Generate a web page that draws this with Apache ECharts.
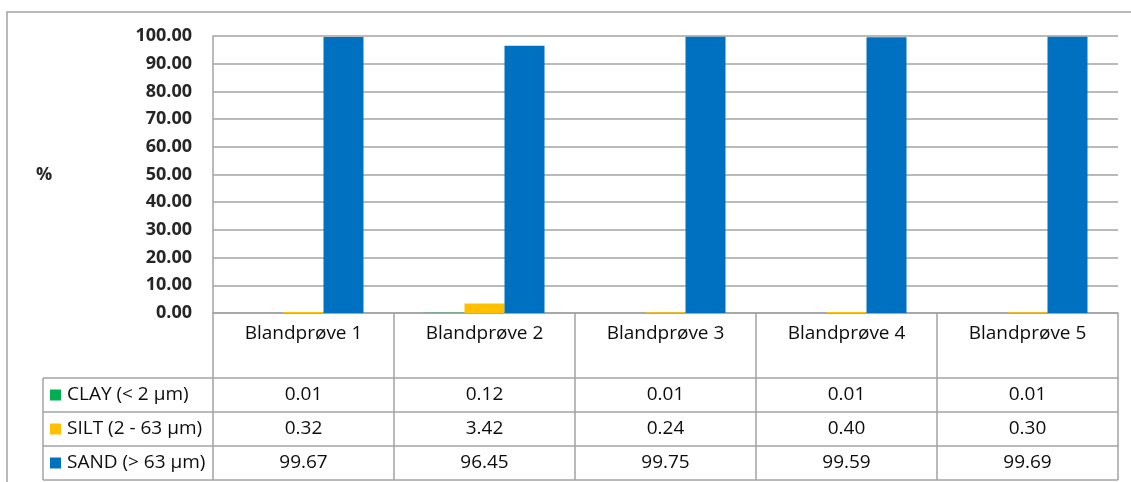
<!DOCTYPE html>
<html>
<head>
<meta charset="utf-8">
<title>Kornfordeling</title>
<script src="https://cdn.jsdelivr.net/npm/echarts@6/dist/echarts.min.js"></script>
<style>
  html, body { margin: 0; padding: 0; background: #fff; }
  #chart { width: 1131px; height: 482px; }
</style>
</head>
<body>
<div id="chart"></div>
<script>
// Grain size fractions per mixed sample (%)
const categories = ['Blandprøve 1', 'Blandprøve 2', 'Blandprøve 3', 'Blandprøve 4', 'Blandprøve 5'];
const seriesNames = ['CLAY (< 2 µm)', 'SILT (2 - 63 µm)', 'SAND (> 63 µm)'];
const clay = [0.01, 0.12, 0.01, 0.01, 0.01];
const silt = [0.32, 3.42, 0.24, 0.40, 0.30];
const sand = [99.67, 96.45, 99.75, 99.59, 99.69];
const seriesColors = ['#00B050', '#FFC000', '#0070C0'];
const yMin = 0, yMax = 100, yStep = 10;

const FONT = '"Open Sans", "Noto Sans", sans-serif';
const LINE = '#a3a3a3';
const TEXT = '#0d0d0d';
const TABLE_FONT = 19;

const chart = echarts.init(document.getElementById('chart'), null, { renderer: 'canvas' });

const grid = { left: 213, right: 13, top: 36, bottom: 169 };
const headerH = 65;   // category label row of the data table
const rowH = 34;      // value rows of the data table
const keyLeft = 43;   // left edge of the series label column

chart.setOption({
  animation: false,
  backgroundColor: '#fff',
  grid: grid,
  xAxis: {
    type: 'category',
    data: categories,
    boundaryGap: true,
    axisLine: { show: true, lineStyle: { color: LINE, width: 1.5 } },
    axisTick: { show: true, interval: 0, length: headerH + rowH * 3, lineStyle: { color: LINE, width: 1.5 } },
    axisLabel: { interval: 0, margin: 11, color: TEXT, fontFamily: FONT, fontSize: TABLE_FONT },
    splitLine: { show: false }
  },
  yAxis: {
    type: 'value',
    min: yMin, max: yMax, interval: yStep,
    axisLine: { show: true, lineStyle: { color: LINE, width: 1.5 } },
    axisTick: { show: false },
    axisLabel: {
      margin: 21, color: '#262626', fontFamily: FONT, fontSize: 18, fontWeight: 'bold',
      formatter: v => v.toFixed(2)
    },
    splitLine: { show: true, lineStyle: { color: LINE, width: 1.5 } }
  },
  series: [clay, silt, sand].map((d, i) => ({
    name: seriesNames[i],
    type: 'bar',
    data: d,
    barWidth: 40,
    barGap: '0%',
    itemStyle: { color: seriesColors[i] }
  }))
});

// Data table under the plot, positioned from the axis scales
function drawTable() {
  const y0 = chart.convertToPixel({ yAxisIndex: 0 }, yMin);
  const xRight = chart.getWidth() - grid.right;
  const rowTop = y0 + headerH;
  const els = [];

  // outer chart frame
  els.push({ type: 'rect', shape: { x: 7, y: 12, width: 1140, height: 500 },
    style: { fill: null, stroke: LINE, lineWidth: 1.5 }, silent: true, z: 0 });

  // axis title
  els.push({ type: 'text', x: 44, y: (grid.top + y0) / 2,
    style: { text: '%', fill: '#262626', font: 'bold 18px ' + FONT, align: 'center', verticalAlign: 'middle' } });

  // horizontal rules
  for (let r = 0; r <= 3; r++) {
    const y = rowTop + r * rowH;
    els.push({ type: 'line', shape: { x1: keyLeft, y1: y, x2: xRight, y2: y },
      style: { stroke: LINE, lineWidth: 1.5 } });
  }
  // left edge of series label column
  els.push({ type: 'line', shape: { x1: keyLeft, y1: rowTop, x2: keyLeft, y2: rowTop + 3 * rowH },
    style: { stroke: LINE, lineWidth: 1.5 } });

  [clay, silt, sand].forEach((vals, r) => {
    const cy = rowTop + r * rowH + rowH / 2;
    els.push({ type: 'rect', shape: { x: keyLeft + 7, y: cy - 5.5, width: 11, height: 11 },
      style: { fill: seriesColors[r] } });
    els.push({ type: 'text', x: keyLeft + 24, y: cy,
      style: { text: seriesNames[r], fill: TEXT, font: TABLE_FONT + 'px ' + FONT, align: 'left', verticalAlign: 'middle' } });
    vals.forEach((v, c) => {
      const cx = chart.convertToPixel({ xAxisIndex: 0 }, c);
      els.push({ type: 'text', x: cx, y: cy,
        style: { text: v.toFixed(2), fill: TEXT, font: TABLE_FONT + 'px ' + FONT, align: 'center', verticalAlign: 'middle' } });
    });
  });

  chart.setOption({ graphic: { elements: els } });
}
drawTable();
</script>
</body>
</html>
